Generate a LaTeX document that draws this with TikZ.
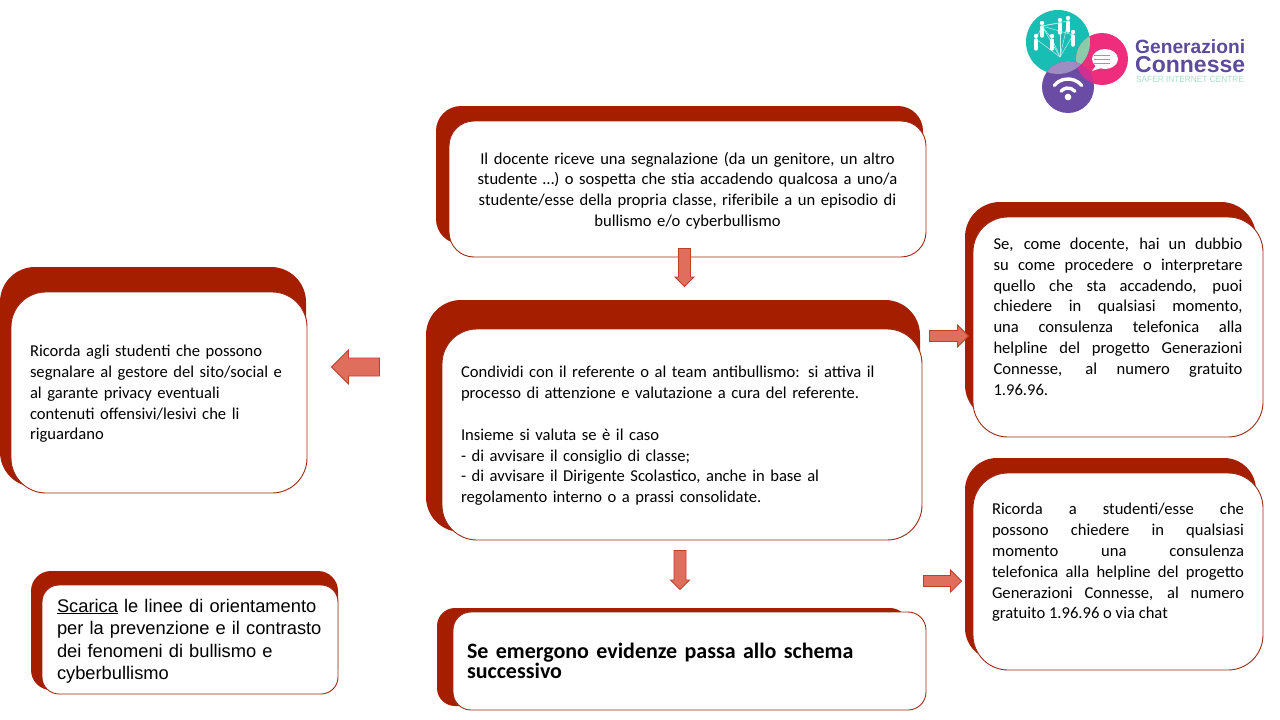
\documentclass[tikz,border=0pt]{standalone}
\usepackage{fontspec}
\setmainfont{Carlito}
\newfontfamily\arialfont{Liberation Sans}
\usetikzlibrary{calc}
\definecolor{backred}{HTML}{A61E00}
\definecolor{cardline}{HTML}{9E2A12}
\definecolor{arrowfill}{HTML}{DF6E5C}
\definecolor{arrowline}{HTML}{BF3F2C}
\definecolor{logoteal}{HTML}{18BDB4}
\definecolor{logopink}{HTML}{EE2E7C}
\definecolor{logopurple}{HTML}{6A4CA4}
\definecolor{logotext}{HTML}{5C4A9C}
\definecolor{logogreen}{HTML}{A8DFC8}
\definecolor{lensgreen}{HTML}{8CCBA9}
\definecolor{lenslilac}{HTML}{9C8EC2}
\tikzset{
    backbox/.style={rectangle, fill=backred, inner sep=0pt},
    cardbox/.style={rectangle, draw=cardline, fill=white, line width=0.9pt, inner sep=0pt,
        font=\fontsize{16.6}{20.8}\selectfont},
    textdrop/.style={execute at begin node=\rule{0pt}{#1}},
    blockarrow/.style n args={2}{draw=arrowline, fill=arrowfill, line width=0.8pt, line join=miter,
        to path={($(\tikztostart)!#1!90:(\tikztotarget)$)
            -- ($(\tikztotarget)!#2!(\tikztostart)!#1!-90:(\tikztostart)$)
            -- ($(\tikztotarget)!#2!(\tikztostart)!#2!-90:(\tikztostart)$)
            -- (\tikztotarget)
            -- ($(\tikztotarget)!#2!(\tikztostart)!#2!90:(\tikztostart)$)
            -- ($(\tikztotarget)!#2!(\tikztostart)!#1!90:(\tikztostart)$)
            -- ($(\tikztostart)!#1!-90:(\tikztotarget)$) -- cycle}},
    logocircle/.style={circle, inner sep=0pt},
    logolabel/.style={anchor=west, inner sep=0pt, text=logotext}
}
\begin{document}
\begin{tikzpicture}[x=1pt, y=-1pt]
    \useasboundingbox (0,0) rectangle (1280,720);

    \foreach \name/\cx/\cy/\w/\h/\r in {
        topback/679.5/175/487/138/25, midback/673/416/494/232/35, endback/672.5/657/471/98/18,
        leftback/153/377/306/220/35, linkback/184.5/630.5/307/119/20,
        doubtback/1110.5/311/291/218/35, chatback/1110.5/559/291/202/32} {
      \node[backbox, minimum width=\w pt, minimum height=\h pt, rounded corners=\r pt] (\name) at (\cx,\cy) {};
    }

    \node[cardbox, textdrop=15.2pt, minimum width=477pt, minimum height=136pt, rounded corners=25pt, text width=440pt, align=center] (top) at (687.5,189)
      {Il docente riceve una segnalazione (da un genitore, un altro\\ studente …) o sospetta che stia accadendo qualcosa a uno/a\\ studente/esse della propria classe, riferibile a un episodio di\\ bullismo e/o cyberbullismo};

    \node[cardbox, textdrop=14.3pt, minimum width=480pt, minimum height=211pt, rounded corners=35pt, text width=442pt, align=left] (middle) at (682,434.5)
      {Condividi con il referente o al team antibullismo: si attiva il\\ processo di attenzione e valutazione a cura del referente.\\ ~\\ Insieme si valuta se è il caso\\ - di avvisare il consiglio di classe;\\ - di avvisare il Dirigente Scolastico, anche in base al\\ regolamento interno o a prassi consolidate.};

    \node[cardbox, minimum width=473pt, minimum height=98pt, rounded corners=18pt, text width=445pt, align=left, font=\fontsize{22}{19}\selectfont\bfseries] (end) at (689.5,661)
      {\lineskiplimit=-10pt Se emergono evidenze passa allo schema\\ successivo};

    \node[cardbox, textdrop=14.3pt, minimum width=296pt, minimum height=201pt, rounded corners=35pt, text width=258pt, align=left] (left) at (159,392.5)
      {Ricorda agli studenti che possono\\ segnalare al gestore del sito/social e\\ al garante privacy eventuali\\ contenuti offensivi/lesivi che li\\ riguardano};

    \node[cardbox, textdrop=16.5pt, minimum width=296pt, minimum height=109pt, rounded corners=17pt, text width=266pt, align=left, font=\fontsize{18.3}{22.5}\selectfont\arialfont] (link) at (190,639.5)
      {\underline{Scarica} le linee di orientamento\\ per la prevenzione e il contrasto\\ dei fenomeni di bullismo e\\ cyberbullismo};

    \node[cardbox, minimum width=290pt, minimum height=220pt, rounded corners=35pt, text width=249pt, align=justify] (doubt) at (1118,327)
      {Se, come docente, hai un dubbio\linebreak su come procedere o interpretare\linebreak quello che sta accadendo, puoi\linebreak chiedere in qualsiasi momento,\linebreak una consulenza telefonica alla\linebreak helpline del progetto Generazioni\linebreak Connesse, al numero gratuito\linebreak 1.96.96.\\ ~};

    \node[cardbox, minimum width=290pt, minimum height=197pt, rounded corners=35pt, text width=252pt, align=justify] (chat) at (1118,571.5)
      {\rightskip=9pt Ricorda a studenti/esse che\linebreak possono chiedere in qualsiasi\linebreak momento una consulenza\linebreak telefonica alla helpline del progetto\linebreak Generazioni Connesse, al numero\linebreak gratuito 1.96.96 o via chat\\ ~};

    \draw[blockarrow={6pt}{9.5pt}] ([xshift=-3pt,yshift=9pt]top.south) to ([xshift=2.5pt,yshift=42pt]middle.north);
    \draw[blockarrow={6pt}{9.5pt}] ([xshift=-2pt,yshift=-10pt]middle.south) to ([xshift=-9.5pt,yshift=22pt]end.north);
    \draw[blockarrow={9pt}{17pt}] ([xshift=-62pt,yshift=67.5pt]middle.west) to ([xshift=24pt,yshift=25.5pt]left.east);
    \draw[blockarrow={5.5pt}{11pt}] ([xshift=7pt,yshift=98.5pt]middle.east) to ([xshift=-4pt,yshift=-9pt]doubt.west);
    \draw[blockarrow={5.5pt}{11pt}] ([xshift=1pt,yshift=-146.5pt]middle.east) to ([xshift=-11pt,yshift=-9.5pt]chat.west);

    \node[logocircle, fill=logoteal, minimum size=64pt] (teal) at (1058,42) {};
    \node[logocircle, fill=logopink, minimum size=52pt] (pink) at (1102,59) {};
    \node[logocircle, fill=logopurple, minimum size=52pt] (purple) at (1068,87) {};

    \begin{scope}
      \clip (1058,42) circle (32pt);
      \fill[fill=lensgreen] (1102,59) circle (26pt);
      \fill[fill=lenslilac] (1068,87) circle (26pt);
    \end{scope}
    \begin{scope}
      \clip (1102,59) circle (26pt);
      \fill[fill=magenta!70!logopurple] (1068,87) circle (26pt);
      \clip (1068,87) circle (26pt);
      \fill[fill=lenslilac] (1058,42) circle (32pt);
    \end{scope}

    \coordinate (hub) at (1060,57);
    \foreach \x/\y in {1042/26, 1060/23, 1068/21, 1036/39, 1052/39, 1073/35} {
      \draw[white!75!logoteal, line width=0.5pt] (\x,\y) -- (hub);
      \draw[white!75!logoteal, line width=0.5pt] (\x,\y) -- (1042,26);
      \fill[white] (\x,\y-3) circle (2.2pt);
      \draw[white, line width=3.4pt, line cap=round] (\x,\y+1) -- (\x,\y+10);
    }

    \fill[white] (1105,59) ellipse (13pt and 10pt);
    \fill[white] (1097,64) -- (1092,71) -- (1104,67) -- cycle;
    \foreach \y in {55,59,63} {
      \draw[logopink!70!white, line width=1pt] (1094,\y) -- (1110,\y);
    }

    \coordinate (wifi) at (1068,97);
    \fill[white] (wifi) circle (3.3pt);
    \foreach \r in {9,18} {
      \draw[white, line width=3.4pt, line cap=round] ([shift={(40:\r pt)}]wifi) arc (40:140:\r pt);
    }

    \node[logolabel, font=\fontsize{19.2}{20}\selectfont\arialfont\bfseries] (gen) at (1135,46.5) {Generazioni};
    \node[logolabel, font=\fontsize{23}{24}\selectfont\arialfont\bfseries] (con) at (1135,64.5) {Connesse};
    \node[logolabel, text=logogreen, font=\fontsize{9}{10}\selectfont\arialfont, xscale=0.92] (safer) at (1136,79.5) {SAFER INTERNET CENTRE};
\end{tikzpicture}
\end{document}
